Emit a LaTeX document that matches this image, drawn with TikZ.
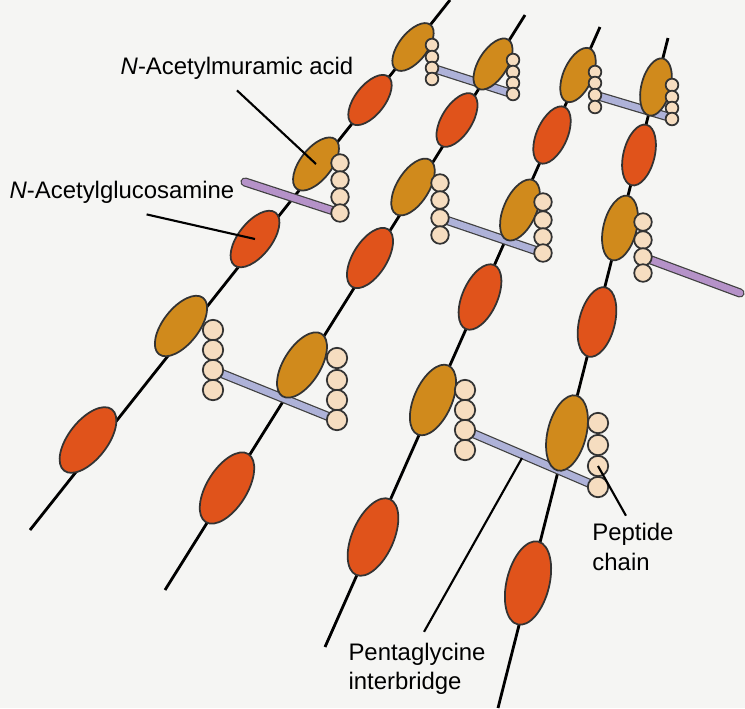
\documentclass[tikz,border=0pt]{standalone}
\usepackage{fontspec}
\setmainfont{Liberation Sans}
\definecolor{paper}{HTML}{F5F5F3}
\definecolor{nag}{HTML}{E0531B}
\definecolor{nam}{HTML}{D08A1C}
\definecolor{gly}{HTML}{F6DDC0}
\definecolor{bridgeblue}{HTML}{AEB2D8}
\definecolor{bridgepurple}{HTML}{B592C8}

\tikzset{
    chain/.style={line width=0.8pt, black},
    sugar/.style={draw=black!80, line width=0.5pt},
    bead/.style={draw=black!80, fill=gly, line width=0.5pt},
    bridge/.style={line width=1.9pt, line cap=round, draw=#1,
        preaction={draw=black!75, line width=2.6pt, line cap=round}},
    leader/.style={line width=0.6pt, black},
    lbl/.style={font=\fontsize{6.8}{8.4}\selectfont, align=left, inner sep=1pt}
}

% one sugar of a glycan strand: x, y, angle, colour, name
\newcommand\sugar[5]{%
    \pgfmathsetmacro\sa{(27+19*#2/708)*0.2845}%
    \pgfmathsetmacro\sb{\sa*0.5}%
    \draw[sugar, fill=#4, rotate around={#3:(#1,#2)}]
        (#1,#2) ellipse[x radius=\sa pt, y radius=\sb pt];
    \coordinate (#5) at (#1,#2);}

\begin{document}
\begin{tikzpicture}[x=0.01cm, y=-0.01cm]
    \fill[paper] (0,0) rectangle (745,708);
    \useasboundingbox (0,0) rectangle (745,708);

    % glycan strands
    \draw[chain] (30,530)  -- (450,0);
    \draw[chain] (165,590) -- (525,15);
    \draw[chain] (325,647) -- (600,27);
    \draw[chain] (498,708) -- (668,38);

    % interbridges
    \draw[bridge=bridgeblue]   (432,68)  -- (513,94);
    \draw[bridge=bridgeblue]   (595,95)  -- (672,118);
    \draw[bridge=bridgepurple] (245,182) -- (340,213);
    \draw[bridge=bridgeblue]   (440,218) -- (543,253);
    \draw[bridge=bridgeblue]   (213,370) -- (337,420);
    \draw[bridge=bridgeblue]   (465,430) -- (598,487);
    \draw[bridge=bridgepurple] (643,257) -- (740,293);
    \coordinate (bridgept) at (522,458);

    % strand A
    \sugar{88}{440}{52}{nag}{a1}
    \sugar{181}{326}{52}{nam}{a2}
    \sugar{255}{239}{52}{nag}{a3}
    \sugar{316}{164}{52}{nam}{a4}
    \sugar{370}{100}{52}{nag}{a5}
    \sugar{413}{47}{52}{nam}{a6}
    % strand B
    \sugar{227}{488}{58}{nag}{b1}
    \sugar{302}{365}{58}{nam}{b2}
    \sugar{370}{258}{58}{nag}{b3}
    \sugar{413}{187}{58}{nam}{b4}
    \sugar{457}{120}{58}{nag}{b5}
    \sugar{493}{64}{58}{nam}{b6}
    % strand C
    \sugar{373}{537}{66}{nag}{c1}
    \sugar{433}{400}{66}{nam}{c2}
    \sugar{480}{297}{66}{nag}{c3}
    \sugar{520}{210}{66}{nam}{c4}
    \sugar{552}{135}{66}{nag}{c5}
    \sugar{578}{75}{66}{nam}{c6}
    % strand D
    \sugar{528}{583}{76}{nag}{d1}
    \sugar{567}{433}{76}{nam}{d2}
    \sugar{597}{322}{76}{nag}{d3}
    \sugar{620}{228}{76}{nam}{d4}
    \sugar{639}{155}{76}{nag}{d5}
    \sugar{656}{87}{76}{nam}{d6}

    % peptide chains
    \foreach \x/\ya/\yb/\yc/\yd/\r in {
        432/45/57/68/79/1.8, 513/60/72/83/94/1.8,
        595/72/83/95/107/1.8, 672/85/97/108/119/1.8,
        340/163/180/197/213/2.5,
        440/183/200/218/235/2.5, 543/202/220/237/253/2.5,
        643/222/240/257/273/2.5,
        213/330/350/370/390/2.9, 337/358/380/400/420/2.9,
        465/390/410/430/450/2.9, 598/423/445/466/487/2.9} {
        \foreach \y in {\ya,\yb,\yc,\yd}
            \draw[bead] (\x,\y) circle[radius=\r pt];
    }
    \coordinate (peptide) at (598,466);

    % labels
    \node[lbl] (mur) at (237,68) {\textit{N}-Acetylmuramic acid};
    \node[lbl] (glc) at (122,192) {\textit{N}-Acetylglucosamine};
    \node[lbl] (pep) at (633,547) {Peptide\\chain};
    \node[lbl] (pen) at (417,669) {Pentaglycine\\interbridge};

    \draw[leader] ([yshift=-2pt]mur.south) -- (a4);
    \draw[leader] ([xshift=7pt,yshift=-2pt]glc.south) -- (a3);
    \draw[leader] ([xshift=-2pt,yshift=1pt]pep.north) -- (peptide);
    \draw[leader] ([xshift=2pt,yshift=2pt]pen.north) -- (bridgept);
\end{tikzpicture}
\end{document}
